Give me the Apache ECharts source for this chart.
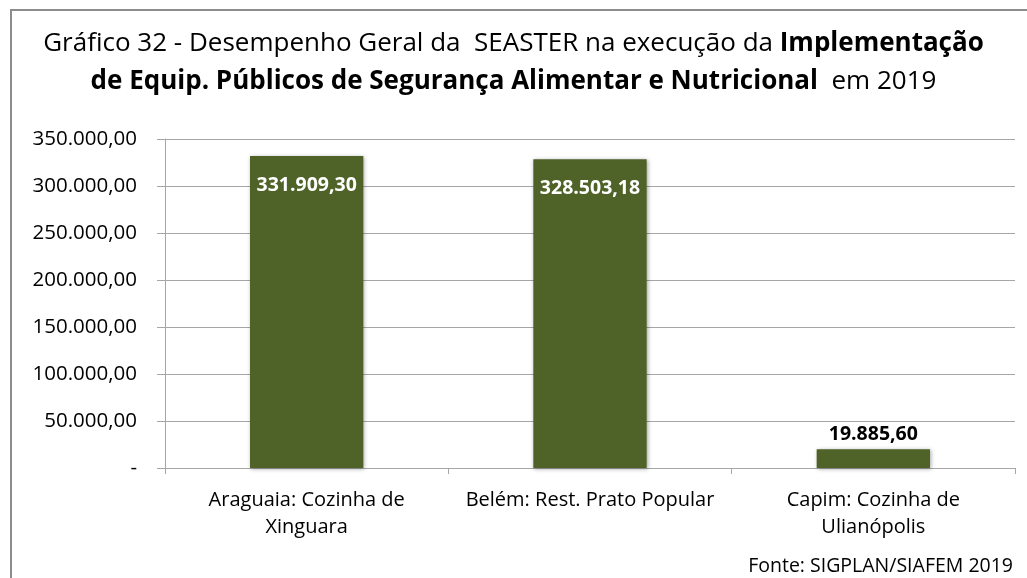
<!DOCTYPE html>
<html>
<head>
<meta charset="utf-8">
<script src="https://cdn.jsdelivr.net/npm/echarts@6/dist/echarts.min.js"></script>
<style>
  html, body { margin: 0; padding: 0; background: #fff; }
  #chart { width: 1027px; height: 578px; }
</style>
</head>
<body>
<div id="chart"></div>
<script>
// dados do gráfico
var categorias = ['Araguaia: Cozinha de\nXinguara', 'Belém: Rest. Prato Popular', 'Capim: Cozinha de\nUlianópolis'];
var valores = [331909.30, 328503.18, 19885.60];
var eixoY = { min: 0, max: 350000, intervalo: 50000 };
var fonte = 'Fonte: SIGPLAN/SIAFEM 2019';

var FONT = '"Open Sans", sans-serif';

// formato pt-BR: 331.909,30
function fmt(v) {
  var partes = v.toFixed(2).split('.');
  var inteiro = partes[0].replace(/\B(?=(\d{3})+(?!\d))/g, '.');
  return inteiro + ',' + partes[1];
}

var chart = echarts.init(document.getElementById('chart'));

chart.setOption({
  backgroundColor: '#fff',
  animation: false,
  title: {
    left: 'center',
    top: 20,
    text: '{n|Gráfico 32 - Desempenho Geral da  SEASTER na execução da }{b|Implementação}\n{b|de Equip. Públicos de Segurança Alimentar e Nutricional}{n|  em 2019}',
    textStyle: {
      fontFamily: FONT,
      fontWeight: 'normal',
      fontSize: 26,
      lineHeight: 38,
      align: 'center',
      rich: {
        n: { fontSize: 26, fontFamily: FONT, color: '#000', fontWeight: 'normal', lineHeight: 38 },
        b: { fontSize: 26, fontFamily: FONT, color: '#000', fontWeight: 'bold', lineHeight: 38 }
      }
    }
  },
  graphic: [
    {
      type: 'rect',
      shape: { x: 11, y: 10, width: 1040, height: 600 },
      style: { fill: 'none', stroke: '#8c8c8c', lineWidth: 2 },
      silent: true
    },
    {
      type: 'text',
      right: 14,
      bottom: 2,
      style: { text: fonte, font: '19.5px ' + FONT, fill: '#000' }
    }
  ],
  grid: { left: 165, right: 12, top: 139, bottom: 110, containLabel: false },
  xAxis: {
    type: 'category',
    data: categorias,
    axisLine: { lineStyle: { color: '#a6a6a6', width: 1 } },
    axisTick: { show: true, length: 6, lineStyle: { color: '#a6a6a6' } },
    axisLabel: { color: '#000', fontSize: 20, fontFamily: FONT, lineHeight: 27, margin: 19, interval: 0 }
  },
  yAxis: {
    type: 'value',
    min: eixoY.min,
    max: eixoY.max,
    interval: eixoY.intervalo,
    axisLine: { show: true, lineStyle: { color: '#a6a6a6' } },
    axisTick: { show: true, length: 8, lineStyle: { color: '#a6a6a6' } },
    splitLine: { lineStyle: { color: '#a6a6a6' } },
    axisLabel: {
      color: '#000', fontSize: 20.5, fontFamily: FONT, margin: 28,
      formatter: function (v) { return v === 0 ? '-' : fmt(v); }
    }
  },
  series: [{
    type: 'bar',
    barWidth: '40%',
    data: valores.map(function (v, i) {
      var dentro = v > 100000;
      return {
        value: v,
        label: {
          show: true,
          position: dentro ? 'insideTop' : 'top',
          distance: dentro ? 19 : 5,
          color: dentro ? '#fff' : '#000',
          fontWeight: 'bold',
          fontSize: 19.5,
          fontFamily: FONT,
          formatter: function (p) { return fmt(p.value); }
        }
      };
    }),
    itemStyle: {
      color: '#4f6228',
      shadowColor: 'rgba(0,0,0,0.35)',
      shadowBlur: 4,
      shadowOffsetX: 1,
      shadowOffsetY: 1
    }
  }]
});
</script>
</body>
</html>
